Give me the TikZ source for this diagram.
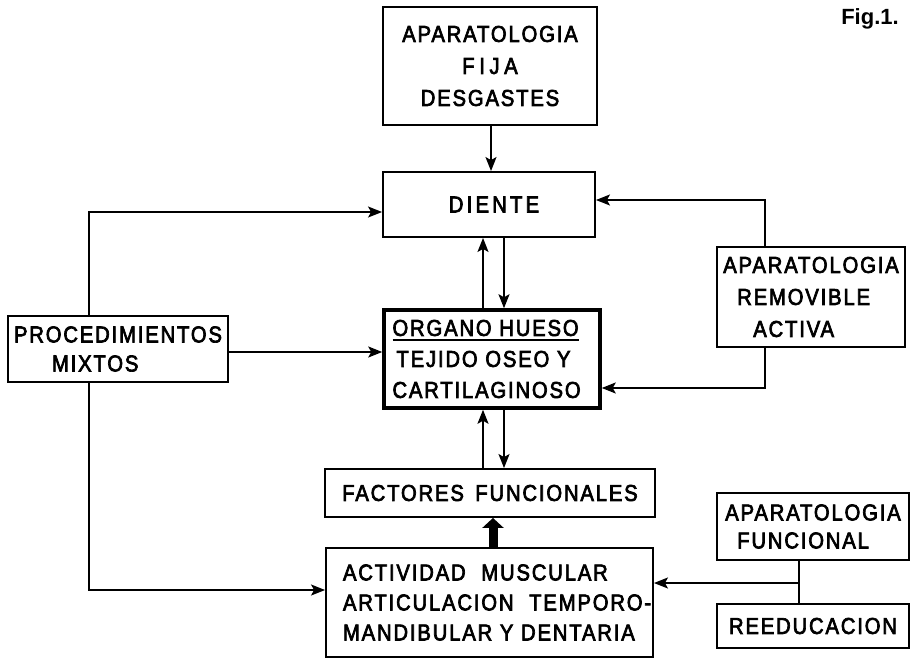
\documentclass[tikz,border=0pt]{standalone}
\usepackage{fontspec}
\setmainfont{Liberation Sans}[LetterSpace=8,FakeStretch=0.88,FakeBold=3]
\newfontfamily\figfont{Liberation Sans}[BoldFont={* Bold}]
\usetikzlibrary{arrows.meta}
\newcommand\myul[1]{\setbox0\hbox{#1}\rlap{\rule[-5pt]{\wd0}{1.8pt}}\box0}
\tikzset{
  box/.style={draw, line width=1.9pt, inner sep=0pt, align=center,
    font=\fontsize{23}{31}\selectfont},
  arr/.style={line width=1.7pt, -{Stealth[length=14pt,width=11pt,inset=3pt]}},
  plain/.style={line width=1.7pt},
  fat/.style={line width=9pt, -{Triangle[length=10pt,width=21pt]}}
}
\begin{document}
\begin{tikzpicture}[x=1pt,y=-1pt]
\useasboundingbox (0,0) rectangle (912,661);
% boxes
\node[box, minimum width=214, minimum height=118, font=\fontsize{23}{32}\selectfont]
  (fija) at (490,66) {APARATOLOGIA\\{\addfontfeature{LetterSpace=20}FIJA}\\DESGASTES};
\node[box, minimum width=212, minimum height=65] (diente) at (489,204.5)
  {\hspace*{10pt}{\addfontfeature{LetterSpace=14}DIENTE}};
\node[box, line width=3.5pt, minimum width=216, minimum height=98, align=left,
  text width=199, font=\fontsize{23}{31}\selectfont] (organo) at (492,359)
  {\myul{ORGANO HUESO}\\\hspace*{4pt}TEJIDO OSEO Y\\CARTILAGINOSO};
\node[box, minimum width=330, minimum height=48] (factores) at (490,493)
  {FACTORES\hspace{4pt} FUNCIONALES};
\node[box, minimum width=327, minimum height=109, align=left, text width=293,
  font=\fontsize{23}{30}\selectfont] (actividad) at (489.5,602.5)
  {\mbox{ACTIVIDAD\hspace{8pt} MUSCULAR}\\\mbox{ARTICULACION\hspace{8pt} TEMPORO-}\\\mbox{MANDIBULAR Y DENTARIA}};
\node[box, minimum width=220, minimum height=66, align=left,
  font=\fontsize{23}{29}\selectfont] (proc) at (118,349)
  {PROCEDIMIENTOS\\\hspace*{38pt}MIXTOS};
\node[box, minimum width=188, minimum height=100, align=left,
  font=\fontsize{23}{32}\selectfont] (removible) at (811,297)
  {APARATOLOGIA\\\hspace*{14pt}REMOVIBLE\\\hspace*{30pt}ACTIVA};
\node[box, minimum width=192, minimum height=67, align=left,
  font=\fontsize{23}{28}\selectfont] (funcional) at (813,526.5)
  {APARATOLOGIA\\\hspace*{12pt}FUNCIONAL};
\node[box, minimum width=192, minimum height=44] (reeduc) at (813,626)
  {REEDUCACION};
\node[font=\figfont\fontsize{22}{24}\selectfont\bfseries]
  (fig) at (870,19) {Fig.1.};
% helper coordinates
\coordinate (xT) at (491,0);
\coordinate (xL) at (89,0);
\coordinate (xU) at (483,0);
\coordinate (xD) at (504,0);
\coordinate (xM) at (493,0);
\coordinate (xR) at (765,0);
\coordinate (xF) at (799,0);
\coordinate (yD) at (0,212);
\coordinate (yDr) at (0,200);
\coordinate (yO) at (0,352);
\coordinate (yOr) at (0,388);
\coordinate (yA) at (0,590);
\coordinate (jn) at (799,583);
% connectors
\draw[arr] (fija.south -| xT) -- (diente.north -| xT);
\draw[arr] (proc.north -| xL) |- (diente.west |- yD);
\draw[arr] (proc.south -| xL) |- (actividad.west |- yA);
\draw[arr] (proc.east |- yO) -- (organo.west |- yO);
\draw[arr] (organo.north -| xU) -- (diente.south -| xU);
\draw[arr] (diente.south -| xD) -- (organo.north -| xD);
\draw[arr] (factores.north -| xU) -- (organo.south -| xU);
\draw[arr] (organo.south -| xD) -- (factores.north -| xD);
\draw[fat] (actividad.north -| xM) -- (factores.south -| xM);
\draw[arr] (removible.north -| xR) |- (diente.east |- yDr);
\draw[arr] (removible.south -| xR) |- (organo.east |- yOr);
\draw[plain] (funcional.south -| xF) -- (reeduc.north -| xF);
\draw[arr] (jn) -- (actividad.east |- jn);
\end{tikzpicture}
\end{document}
